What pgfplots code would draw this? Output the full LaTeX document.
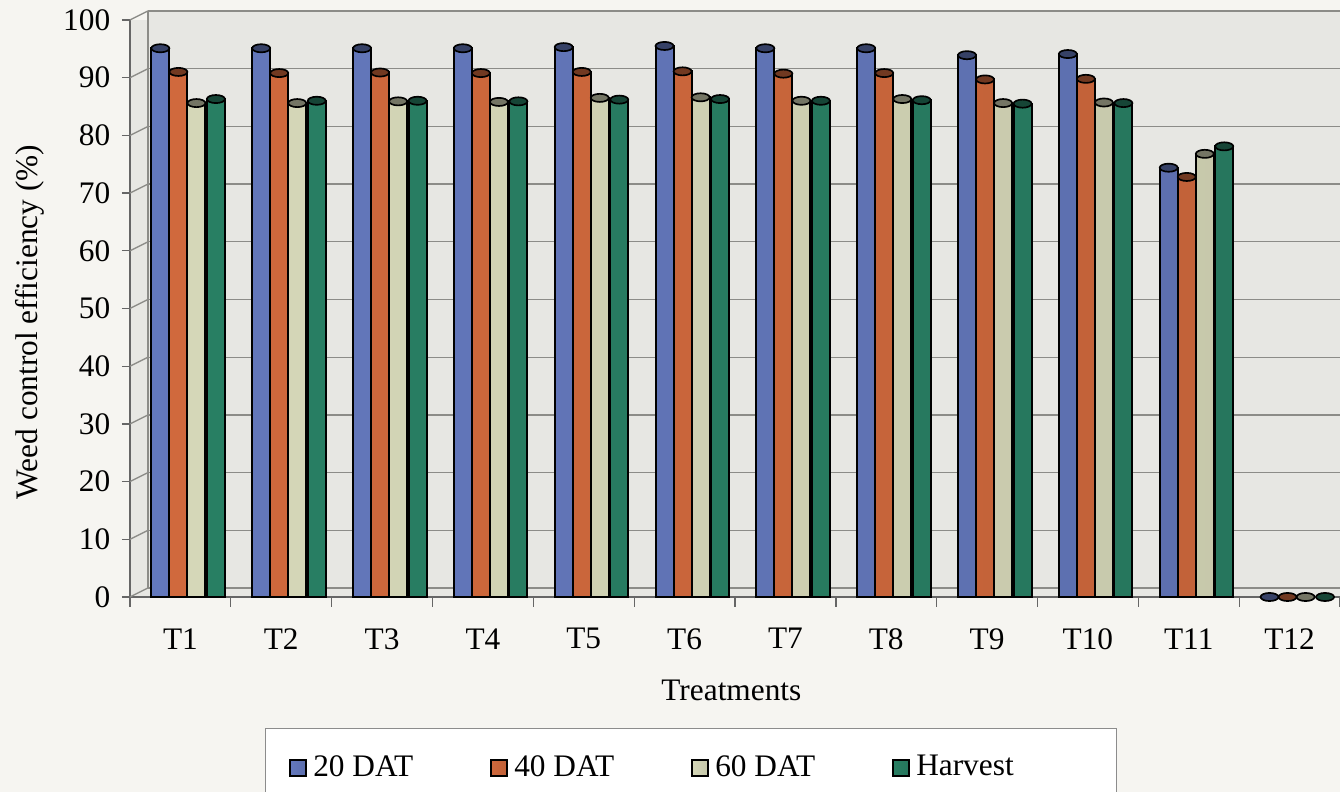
\documentclass[border=0pt]{standalone}
\usepackage{fontspec}
\setmainfont{Liberation Serif}
\usepackage{pgfplots}
\pgfplotsset{compat=1.18}
\usepackage{pgfplotstable}

\definecolor{cBlue}{HTML}{6C82CC}
\definecolor{cOrange}{HTML}{E27242}
\definecolor{cCream}{HTML}{E8EAC8}
\definecolor{cGreen}{HTML}{2C8A6C}
\definecolor{wall}{HTML}{E7E7E3}
\definecolor{paper}{HTML}{F6F5F1}
\definecolor{gridc}{HTML}{8C8C88}

% Weed control efficiency (%) per treatment and observation stage
\pgfplotstableread{
x   d20   d40   d60   harv
1   95.1  91.0  85.6  86.3
2   95.1  90.8  85.6  86.0
3   95.1  90.9  85.9  86.0
4   95.1  90.8  85.8  85.9
5   95.3  91.0  86.5  86.2
6   95.5  91.1  86.6  86.3
7   95.1  90.7  86.0  86.0
8   95.1  90.8  86.3  86.1
9   93.9  89.7  85.6  85.5
10  94.1  89.8  85.7  85.6
11  74.4  72.8  76.8  78.1
12  0     0     0     0
}\wce

\newcommand\fs{\fontsize{9.4}{11.3}\selectfont}

% one column of cylinders: body plus dark top ellipse
\newcommand\cyl[3]{%
  \addplot[ybar, bar width=5.4pt, bar shift=0pt, draw=black, line width=0.6pt,
    left color=#1!92!black, middle color=#1!90!white, right color=#1!85!black]
    table[x expr=\thisrow{x}+#2, y=#3] {\wce};
}
\newcommand\cyltop[3]{%
  \addplot[only marks, mark=*, mark size=2.7pt, forget plot,
    mark options={yscale=0.45, fill=#1!50!black, draw=black, line width=0.5pt}]
    table[x expr=\thisrow{x}+#2, y=#3] {\wce};
}

\begin{document}
\begin{tikzpicture}
\path[use as bounding box, fill=paper] (0,0) rectangle (402pt,237.6pt);
\begin{axis}[
  at={(39pt,58.5pt)}, anchor=south west,
  scale only axis, width=363pt, height=173.1pt,
  xmin=0.5, xmax=12.5, ymin=0, ymax=100,
  clip=false,
  axis x line*=bottom, axis y line*=left,
  axis line style={draw=black!60, line width=0.4pt},
  axis background/.style={fill=wall},
  tick align=outside,
  ytick={0,10,...,100},
  xtick={1,...,12},
  xticklabels={T1,T2,T3,T4,T5,T6,T7,T8,T9,T10,T11,T12},
  major x tick style={draw=none},
  minor xtick={0.5,1.5,...,12.5},
  minor tick length=3pt,
  major tick length=2.4pt,
  tick style={draw=black!60, line width=0.4pt},
  tick label style={font=\fs},
  /pgf/number format/assume math mode=true,
  xticklabel style={yshift=-3.5pt},
  ymajorgrids,
  major grid style={draw=gridc, line width=0.4pt, xshift=5.4pt, yshift=2.7pt},
  xlabel={Treatments},
  xlabel style={font=\fs, at={(axis description cs:0.497,0)}, anchor=north, yshift=-21.5pt},
  ylabel={Weed control efficiency (\%)},
  ylabel style={font=\fs, at={(axis description cs:-0.0826,0.4766)}, anchor=center, rotate=0},
  legend columns=4,
  legend image code/.code={\draw[#1, line width=0.5pt] (0pt,-2.4pt) rectangle (4.8pt,2.4pt);},
  legend style={at={(axis description cs:0.4636,-0.227)}, anchor=north,
    draw=black!45, fill=white, font=\fs, inner xsep=7pt, inner ysep=6pt,
    /tikz/every even column/.append style={column sep=0pt}},
]
% top strip of the back wall and the side wall edges
\fill[wall] (axis cs:0.5,100) ++(5.4pt,0pt) rectangle ++(400pt,2.7pt);
\draw[gridc, line width=0.4pt] (axis cs:0.5,100) ++(5.4pt,2.7pt) -- ++(400pt,0pt);
\draw[gridc, line width=0.4pt] (axis cs:0.5,0) ++(5.4pt,2.7pt) -- ++(0pt,173.1pt);
\pgfplotsinvokeforeach{0,10,...,100}{
  \draw[gridc, line width=0.4pt] (axis cs:0.5,#1) -- ++(5.4pt,2.7pt);
}

\cyl{cBlue}{-0.199}{d20}
\cyl{cOrange}{-0.020}{d40}
\cyl{cCream}{0.159}{d60}
\cyl{cGreen}{0.352}{harv}
\cyltop{cBlue}{-0.199}{d20}
\cyltop{cOrange}{-0.020}{d40}
\cyltop{cCream}{0.159}{d60}
\cyltop{cGreen}{0.352}{harv}

\addlegendentry{\makebox[51pt][l]{20 DAT}}
\addlegendentry{\makebox[51pt][l]{40 DAT}}
\addlegendentry{\makebox[51pt][l]{60 DAT}}
\addlegendentry{\makebox[51pt][l]{Harvest}}
\end{axis}
\end{tikzpicture}
\end{document}
